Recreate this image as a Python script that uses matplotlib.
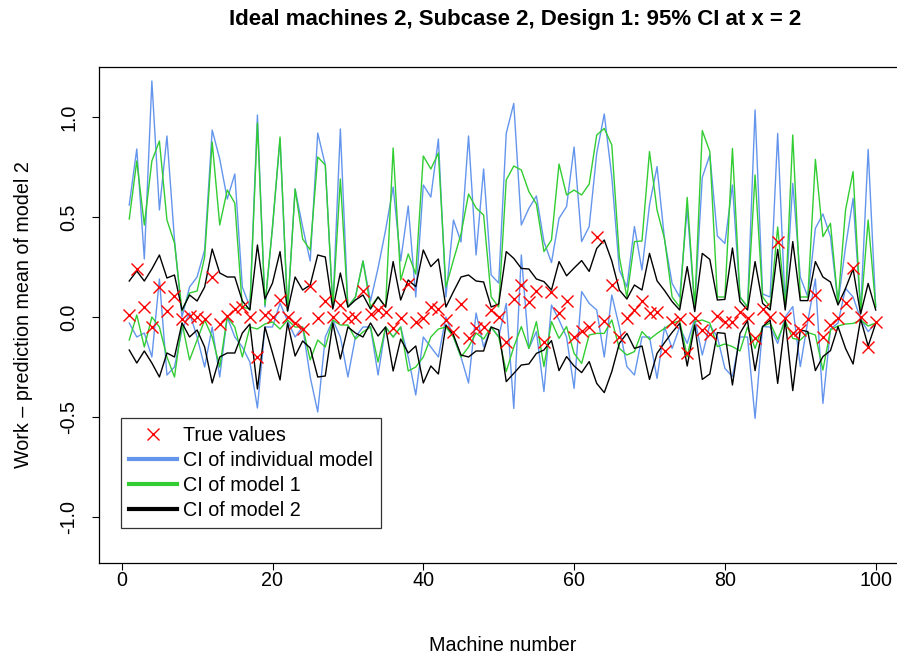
import numpy as np
import matplotlib
matplotlib.use("Agg")
import matplotlib.pyplot as plt
from matplotlib.lines import Line2D

plt.rcParams['font.family'] = ['Liberation Sans', 'DejaVu Sans']

machines = list(range(1, 101))

true_vals = [0.01, 0.24, 0.05, -0.05, 0.15, 0.03, 0.105, -0.01, 0.005, 0.0,
             -0.01, 0.20, -0.035, 0.005, 0.04, 0.05, 0.0, -0.20, 0.01, 0.0,
             0.085, 0.0, -0.03, -0.06, 0.155, -0.003, 0.08, 0.0, 0.06, -0.007,
             0.0, 0.13, 0.013, 0.035, 0.023, -0.057, -0.003, 0.163, -0.024, -0.003,
             0.052, 0.039, -0.015, -0.073, 0.063, -0.107, -0.054, -0.048, 0.035, 0.002,
             -0.127, 0.088, 0.16, 0.077, 0.132, -0.123, 0.127, 0.018, 0.082, -0.102,
             -0.07, -0.052, 0.398, -0.02, 0.16, -0.102, -0.007, 0.035, 0.082, 0.022,
             0.023, -0.168, -0.023, -0.012, -0.178, -0.003, -0.065, -0.085, 0.005, -0.023,
             -0.023, 0.027, -0.007, -0.107, 0.038, -0.002, 0.373, -0.007, -0.082, -0.065,
             -0.012, 0.11, -0.098, -0.04, -0.003, 0.072, 0.243, 0.002, -0.148, -0.023]

ind_hi = [0.56, 0.84, 0.29, 1.18, 0.535, 0.905, 0.385, 0.0, 0.15, 0.2,
          0.335, 0.935, 0.79, 0.59, 0.715, 0.15, 0.05, 1.01, 0.05, 0.45,
          0.89, 0.03, 0.64, 0.45, 0.28, 0.92, 0.76, 0.05, 0.94, 0.05,
          0.1, 0.28, 0.08, 0.245, 0.435, 0.65, 0.28, 0.555, 0.1, 0.66,
          0.6, 0.89, 0.1, 0.485, 0.375, 0.905, 0.31, 0.74, 0.21, 0.17,
          0.918, 1.068, 0.46, 0.543, 0.605, 0.377, 0.272, 0.493, 0.552, 0.85,
          0.377, 0.452, 0.818, 1.015, 0.7, 0.235, 0.15, 0.452, 0.235, 0.56,
          0.752, 0.385, 0.168, 0.1, 0.543, 0.05, 0.698, 0.81, 0.405, 0.368,
          0.66, 0.1, 0.05, 1.035, 0.115, 0.1, 0.918, 0.05, 0.668, 0.2,
          0.1, 0.443, 0.515, 0.402, 0.07, 0.35, 0.593, 0.03, 0.838, 0.05]

ind_lo = [-0.03, -0.1, -0.08, -0.2, 0.19, -0.29, -0.25, -0.065, 0.02, -0.1,
          -0.25, -0.05, -0.3, 0.0, -0.1, -0.15, -0.225, -0.455, -0.05, -0.05,
          0.07, -0.02, -0.1, -0.05, -0.3, -0.475, -0.1, -0.015, -0.1, -0.3,
          -0.1, -0.05, -0.05, -0.29, -0.05, -0.1, -0.05, -0.2, -0.39, -0.1,
          -0.15, -0.2, 0.0, -0.1, -0.2, -0.33, 0.02, -0.15, -0.05, -0.1,
          0.068, -0.457, 0.31, -0.157, -0.073, -0.373, 0.06, -0.015, -0.1, -0.357,
          0.127, 0.068, 0.035, -0.2, 0.11, -0.05, -0.248, -0.29, -0.1, -0.1,
          -0.307, -0.05, -0.157, -0.05, -0.132, -0.01, -0.19, -0.04, -0.1, -0.257,
          -0.298, -0.1, -0.1, -0.507, -0.048, -0.05, -0.132, 0.0, 0.052, -0.248,
          -0.02, 0.19, -0.432, -0.06, -0.03, 0.143, 0.1, -0.01, -0.073, -0.032]

m1_hi = [0.49, 0.78, 0.46, 0.78, 0.88, 0.485, 0.37, 0.03, 0.12, 0.13,
         0.3, 0.875, 0.46, 0.635, 0.57, 0.05, 0.04, 0.97, 0.06, 0.45,
         0.9, 0.03, 0.64, 0.39, 0.335, 0.80, 0.76, 0.05, 0.69, 0.05,
         0.1, 0.28, 0.05, 0.1, 0.05, 0.845, 0.185, 0.315, 0.215, 0.805,
         0.74, 0.82, 0.15, 0.285, 0.415, 0.615, 0.545, 0.51, 0.1, 0.05,
         0.685, 0.755, 0.735, 0.627, 0.565, 0.327, 0.385, 0.765, 0.61, 0.635,
         0.61, 0.665, 0.91, 0.943, 0.86, 0.3, 0.1, 0.377, 0.38, 0.827,
         0.535, 0.39, 0.1, 0.05, 0.598, 0.05, 0.932, 0.827, 0.1, 0.1,
         0.843, 0.1, 0.05, 0.71, 0.1, 0.05, 0.45, 0.05, 0.91, 0.1,
         0.1, 0.788, 0.402, 0.468, 0.07, 0.535, 0.727, 0.02, 0.485, 0.05]

m1_lo = [-0.115, 0.01, -0.15, 0.0, -0.05, -0.2, -0.3, -0.03, -0.215, -0.115,
         -0.015, -0.1, -0.25, 0.0, -0.05, -0.2, -0.05, -0.06, -0.035, -0.025,
         -0.06, -0.015, -0.05, -0.05, -0.215, -0.115, -0.15, -0.015, -0.04, -0.04,
         -0.11, -0.075, -0.05, -0.225, -0.05, -0.1, -0.05, -0.27, -0.25, -0.2,
         -0.1, -0.06, -0.05, -0.1, -0.2, -0.15, -0.08, -0.11, -0.05, -0.1,
         -0.273, -0.15, -0.048, -0.157, -0.023, -0.248, -0.023, -0.107, -0.048, -0.182,
         -0.232, -0.09, -0.082, -0.082, -0.015, -0.157, -0.19, -0.173, -0.073, -0.112,
         -0.082, -0.057, -0.03, -0.02, -0.198, -0.023, -0.015, -0.03, -0.148, -0.135,
         -0.148, -0.17, -0.05, -0.157, -0.048, -0.03, -0.112, -0.02, -0.107, -0.115,
         -0.078, -0.09, -0.265, -0.065, -0.045, -0.035, -0.032, -0.015, -0.045, -0.03]

m2_hi = [0.18, 0.23, 0.18, 0.24, 0.31, 0.195, 0.21, 0.035, 0.11, 0.08,
         0.15, 0.34, 0.22, 0.2, 0.2, 0.08, 0.035, 0.36, 0.09, 0.17,
         0.327, 0.03, 0.2, 0.135, 0.16, 0.31, 0.30, 0.04, 0.22, 0.05,
         0.085, 0.11, 0.04, 0.1, 0.05, 0.277, 0.085, 0.185, 0.152, 0.335,
         0.252, 0.29, 0.05, 0.127, 0.2, 0.21, 0.18, 0.175, 0.05, 0.065,
         0.327, 0.293, 0.243, 0.24, 0.19, 0.177, 0.135, 0.277, 0.206, 0.245,
         0.282, 0.228, 0.343, 0.385, 0.28, 0.135, 0.09, 0.16, 0.135, 0.318,
         0.181, 0.132, 0.077, 0.035, 0.252, 0.027, 0.318, 0.288, 0.085, 0.088,
         0.345, 0.077, 0.035, 0.277, 0.068, 0.035, 0.338, 0.035, 0.377, 0.082,
         0.082, 0.277, 0.2, 0.175, 0.06, 0.143, 0.24, 0.015, 0.168, 0.035]

m2_lo = [-0.165, -0.23, -0.17, -0.23, -0.30, -0.18, -0.2, -0.03, -0.10, -0.065,
         -0.15, -0.33, -0.2, -0.18, -0.18, -0.08, -0.035, -0.36, -0.05, -0.18,
         -0.315, -0.03, -0.195, -0.12, -0.155, -0.30, -0.295, -0.03, -0.21, -0.05,
         -0.08, -0.10, -0.03, -0.095, -0.05, -0.27, -0.11, -0.18, -0.145, -0.33,
         -0.245, -0.285, -0.04, -0.09, -0.19, -0.2, -0.17, -0.17, -0.05, -0.065,
         -0.323, -0.282, -0.24, -0.235, -0.182, -0.165, -0.118, -0.268, -0.198, -0.245,
         -0.278, -0.223, -0.332, -0.378, -0.273, -0.132, -0.082, -0.157, -0.145, -0.312,
         -0.182, -0.128, -0.077, -0.032, -0.245, -0.04, -0.312, -0.285, -0.078, -0.082,
         -0.34, -0.082, -0.018, -0.268, -0.048, -0.015, -0.332, -0.015, -0.368, -0.065,
         -0.073, -0.268, -0.198, -0.168, -0.048, -0.157, -0.235, -0.01, -0.145, -0.032]

BLUE = '#6495ED'
GREEN = '#32CD32'

fig = plt.figure(figsize=(8.97, 6.61), dpi=100)
W, H = 897.0, 661.0
x0, x1 = -2.96, 103.96
px_left = 121.7 + x0 * 7.54
px_right = 121.7 + x1 * 7.54
ax = fig.add_axes([px_left / W, (H - 563) / H, (px_right - px_left) / W, (563 - 67) / H])

ax.plot(machines, ind_hi, color=BLUE, lw=1.0)
ax.plot(machines, ind_lo, color=BLUE, lw=1.0)
ax.plot(machines, m1_hi, color=GREEN, lw=1.0)
ax.plot(machines, m1_lo, color=GREEN, lw=1.0)
ax.plot(machines, m2_hi, color='black', lw=1.0)
ax.plot(machines, m2_lo, color='black', lw=1.0)
ax.plot(machines, true_vals, 'x', color='red', ms=8, mew=1.0, ls='none')

ax.set_xlim(x0, x1)
ax.set_ylim(-1.23, 1.25)
ax.set_xticks([0, 20, 40, 60, 80, 100])
ax.set_yticks([-1.0, -0.5, 0.0, 0.5, 1.0])
ax.set_yticklabels(['-1.0', '-0.5', '0.0', '0.5', '1.0'], rotation=90, va='center')
ax.tick_params(direction='out', length=5, width=0.8, labelsize=14.2)
ax.tick_params(axis='x', pad=1)
ax.tick_params(axis='y', pad=10)
for s in ax.spines.values():
    s.set_linewidth(0.9)

fs = 14.2
ax.set_xlabel('Machine number', fontsize=fs, labelpad=33)
ax.set_ylabel('Work \u2013 prediction mean of model 2', fontsize=fs, labelpad=19)
fig.text(515 / W, 1 - 20 / H, 'Ideal machines 2, Subcase 2, Design 1: 95% CI at x = 2',
         ha='center', va='center', fontsize=16, fontweight='bold')

handles = [Line2D([], [], color='red', marker='x', ls='none', ms=8, mew=1.0),
           Line2D([], [], color=BLUE, lw=3),
           Line2D([], [], color=GREEN, lw=3),
           Line2D([], [], color='black', lw=3)]
labels = ['True values', 'CI of individual model', 'CI of model 1', 'CI of model 2']
leg = ax.legend(handles, labels, loc='lower left',
                bbox_to_anchor=((121 - px_left) / (px_right - px_left), (563 - 528) / 496.0),
                borderaxespad=0, fontsize=fs, frameon=True, fancybox=False, edgecolor='black',
                handlelength=2.4, borderpad=0.42, labelspacing=0.3, handletextpad=0.3)
leg.get_frame().set_linewidth(0.9)

fig.savefig('out.png', dpi=100)
